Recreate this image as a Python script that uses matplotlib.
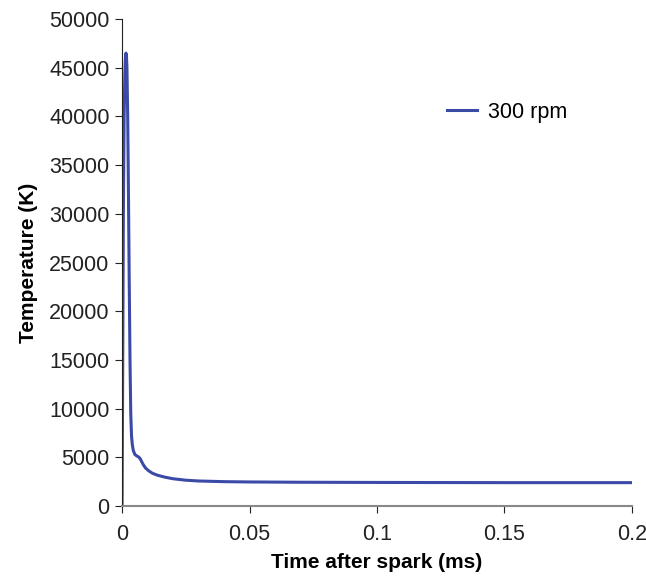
import matplotlib.pyplot as plt
import numpy as np

plt.rcParams['font.family'] = ['Liberation Sans', 'DejaVu Sans']

# Temperature after spark
time_ms = [0.0, 0.0002, 0.0005, 0.0008, 0.0011, 0.0013, 0.0015, 0.0017, 0.0019,
           0.0022, 0.0025, 0.0028, 0.0031, 0.0034, 0.0037, 0.0040, 0.0044,
           0.0050, 0.0057, 0.0064, 0.0070, 0.0076, 0.0083, 0.0092, 0.0105,
           0.012, 0.014, 0.017, 0.020, 0.025, 0.030, 0.040, 0.050, 0.070,
           0.100, 0.150, 0.200]
temp_K = [0, 12000, 30000, 40000, 44500, 46000, 46500, 46300, 45000,
          40000, 32000, 23000, 15000, 9500, 7200, 6300, 5700,
          5300, 5150, 5050, 4900, 4600, 4250, 3900, 3600,
          3350, 3150, 2950, 2800, 2650, 2570, 2500, 2470, 2440,
          2420, 2400, 2400]

fig = plt.figure(figsize=(6.46, 5.76), dpi=100)
ax = fig.add_axes([0.189, 0.1215, 0.789, 0.8455])

ax.plot(time_ms, temp_K, color='#3b4aa6', linewidth=2.2, label='300 rpm',
        solid_joinstyle='round')

ax.set_xlim(0, 0.2)
ax.set_ylim(0, 50000)
ax.set_xticks([0, 0.05, 0.1, 0.15, 0.2])
ax.set_xticklabels(['0', '0.05', '0.1', '0.15', '0.2'])
ax.set_yticks(np.arange(0, 50001, 5000))

ax.spines['top'].set_visible(False)
ax.spines['right'].set_visible(False)
ax.spines['left'].set_color('#222222')
ax.spines['bottom'].set_color('#888888')
ax.spines['bottom'].set_linewidth(1.5)
ax.tick_params(direction='out', length=5, labelsize=15.5, colors='#222222')
ax.tick_params(axis='x', pad=8)
ax.tick_params(axis='y', pad=4)

ax.set_xlabel('Time after spark (ms)', fontsize=15, fontweight='bold', labelpad=6)
ax.set_ylabel('Temperature (K)', fontsize=15, fontweight='bold', labelpad=8)

ax.legend(loc='upper left', bbox_to_anchor=(0.6, 0.87), frameon=False,
          fontsize=15.5, handlelength=1.4, handletextpad=0.5)

plt.savefig('out.png', dpi=100)
